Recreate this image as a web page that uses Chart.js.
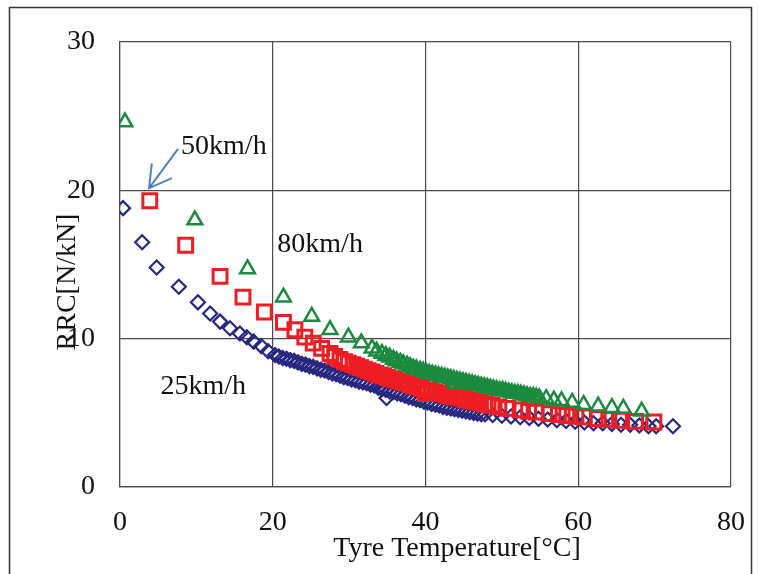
<!DOCTYPE html>
<html>
<head>
<meta charset="utf-8">
<script src="https://cdn.jsdelivr.net/npm/chart.js@4/dist/chart.umd.min.js"></script>
<style>
  html, body { margin: 0; padding: 0; background: #fff; }
  #wrap { width: 759px; height: 574px; position: relative; }
</style>
</head>
<body>
<div id="wrap"><canvas id="rrcChart"></canvas></div>
<script>
// tick labels
const xTicks = [0, 20, 40, 60, 80];
const yTicks = [0, 10, 20, 30];

// 25km/h series (diamonds)
const temp25 = [0.4, 2.9, 4.8, 7.7, 10.2, 11.8, 13.1, 14.4, 15.7, 16.6, 17.5, 18.5, 19.4,
  20.3, 20.8, 21.3, 21.8, 22.3, 22.8, 23.3, 23.8, 24.3, 24.8, 25.3, 25.8, 26.3, 26.8, 27.3,
  27.8, 28.3, 28.8, 29.3, 29.8, 30.3, 30.8, 31.3, 31.8, 32.3, 32.8, 33.3, 33.8, 34.3, 34.8,
  34.9, 35.3, 35.8, 36.3, 36.8, 37.3, 37.8, 38.3, 38.8, 39.3, 39.8, 40.3, 40.8, 41.3, 41.8,
  42.3, 42.8, 43.3, 43.8, 44.3, 44.8, 45.3, 45.8, 46.3, 46.8, 47.3, 47.8, 48.8, 50.0, 51.2,
  52.4, 53.6, 54.8, 56.0, 57.2, 58.4, 59.6, 60.8, 62.0, 63.2, 64.4, 65.6, 66.8, 68.0, 69.2,
  70.2, 72.4];
const rrc25 = [18.8, 16.5, 14.8, 13.5, 12.45, 11.7, 11.15, 10.7, 10.35, 10.1, 9.8, 9.5, 9.15,
  8.9, 8.8, 8.7, 8.65, 8.55, 8.5, 8.4, 8.3, 8.25, 8.15, 8.1, 8.0, 7.9, 7.85, 7.75,
  7.65, 7.6, 7.5, 7.4, 7.35, 7.25, 7.2, 7.1, 7.05, 7.0, 6.9, 6.85, 6.7, 6.6, 6.55,
  6.0, 6.45, 6.4, 6.3, 6.25, 6.15, 6.05, 6.0, 5.9, 5.85, 5.75, 5.7, 5.6, 5.55, 5.5,
  5.4, 5.35, 5.3, 5.25, 5.2, 5.15, 5.1, 5.05, 5.0, 4.95, 4.9, 4.9, 4.85, 4.8, 4.75,
  4.7, 4.65, 4.6, 4.55, 4.5, 4.45, 4.4, 4.35, 4.3, 4.3, 4.25, 4.2, 4.2, 4.15, 4.1,
  4.1, 4.1];

// 50km/h series (squares)
const temp50 = [3.9, 8.6, 13.1, 16.1, 18.9, 21.4, 22.9, 24.2, 25.3, 26.4, 27.5, 28.1, 28.8,
  29.4, 29.9, 30.5, 31.0, 31.5, 32.0, 32.5, 33.0, 33.5, 34.0, 34.5, 35.0, 35.5, 36.0, 36.5,
  37.0, 37.5, 38.0, 38.5, 39.0, 39.5, 40.0, 40.2, 40.7, 41.2, 41.7, 42.2, 42.7, 43.2, 43.7,
  44.2, 44.7, 45.2, 45.7, 46.2, 46.7, 47.2, 47.7, 48.2, 48.7, 49.6, 50.8, 52.4, 53.5, 54.5,
  56.2, 57.4, 58.5, 59.7, 60.7, 62.6, 64.0, 65.4, 67.5, 69.9];
const rrc50 = [19.3, 16.3, 14.2, 12.8, 11.8, 11.1, 10.6, 10.1, 9.7, 9.35, 9.0, 8.8, 8.6,
  8.45, 8.35, 8.25, 8.15, 8.05, 7.95, 7.85, 7.75, 7.65, 7.55, 7.5, 7.4, 7.3, 7.25, 7.15,
  7.05, 7.0, 6.9, 6.8, 6.75, 6.65, 6.3, 6.55, 6.5, 6.4, 6.35, 6.3, 6.2, 6.15, 6.1,
  6.05, 6.0, 5.9, 5.85, 5.8, 5.75, 5.7, 5.6, 5.55, 5.5, 5.4, 5.3, 5.2, 5.1, 5.05,
  4.95, 4.88, 4.82, 4.77, 4.72, 4.62, 4.56, 4.5, 4.42, 4.38];

// 80km/h series (triangles)
const temp80 = [0.65, 9.8, 16.7, 21.4, 25.1, 27.5, 29.9, 31.6, 33.0, 33.6, 34.3, 34.8, 35.3,
  35.8, 36.2, 36.7, 37.1, 37.6, 38.0, 38.4, 38.8, 39.3, 39.7, 40.1, 40.5, 40.9, 41.3, 41.7,
  42.1, 42.5, 42.9, 43.3, 43.7, 43.9, 44.1, 44.5, 44.9, 45.3, 45.7, 46.1, 46.5, 46.9, 47.3,
  47.7, 48.1, 48.5, 48.9, 49.3, 49.7, 50.1, 50.5, 50.9, 51.3, 51.7, 52.1, 52.5, 52.9, 53.3,
  53.7, 54.1, 54.5, 54.9, 55.8, 56.8, 57.8, 59.2, 60.7, 62.6, 64.4, 65.9, 68.3];
const rrc80 = [24.6, 18.0, 14.7, 12.8, 11.5, 10.6, 10.1, 9.7, 9.35, 9.15, 9.0, 8.85, 8.75,
  8.6, 8.5, 8.4, 8.3, 8.2, 8.1, 8.0, 7.95, 7.85, 7.8, 7.7, 7.65, 7.6, 7.55, 7.5,
  7.45, 7.4, 7.35, 7.3, 7.25, 6.95, 7.2, 7.15, 7.1, 7.05, 7.0, 6.95, 6.9, 6.85, 6.8,
  6.75, 6.7, 6.65, 6.6, 6.55, 6.5, 6.5, 6.45, 6.4, 6.35, 6.3, 6.3, 6.25, 6.2, 6.15,
  6.1, 6.1, 6.05, 6.0, 5.95, 5.85, 5.8, 5.7, 5.55, 5.45, 5.35, 5.3, 5.1];

const speedLabels = ['25km/h', '50km/h', '80km/h'];

function toPoints(xs, ys) {
  return xs.map((v, i) => ({ x: v, y: ys[i] }));
}

const serif = "'Liberation Serif', 'Times New Roman', serif";

const overlay = {
  id: 'overlay',
  afterDraw(chart) {
    const { ctx, scales: { x, y } } = chart;
    ctx.save();

    // outer frame of the figure
    ctx.strokeStyle = '#333';
    ctx.lineWidth = 1.5;
    ctx.strokeRect(9.5, 7.5, 742, 600);

    ctx.fillStyle = '#111';
    ctx.font = '28px ' + serif;
    ctx.textAlign = 'center';
    ctx.textBaseline = 'alphabetic';

    // speed notes
    ctx.fillText(speedLabels[1], x.getPixelForValue(13.6), y.getPixelForValue(23.1) + 9.5);
    ctx.fillText(speedLabels[2], x.getPixelForValue(26.2), y.getPixelForValue(16.45) + 9.5);
    ctx.fillText(speedLabels[0], x.getPixelForValue(10.9), y.getPixelForValue(6.9) + 9.5);

    // axis titles
    ctx.fillText('Tyre Temperature[\u00B0C]', 457, 556);
    ctx.save();
    ctx.translate(74.5, 282);
    ctx.rotate(-Math.PI / 2);
    ctx.fillText('RRC[N/kN]', 0, 0);
    ctx.restore();

    // arrow pointing at the 50km/h start
    const x0 = x.getPixelForValue(7.6), y0 = y.getPixelForValue(22.8);
    const x1 = x.getPixelForValue(3.8), y1 = y.getPixelForValue(20.15);
    const ang = Math.atan2(y0 - y1, x0 - x1);
    const wing = 25;
    ctx.strokeStyle = '#4f81bd';
    ctx.lineWidth = 2;
    ctx.beginPath();
    ctx.moveTo(x0, y0);
    ctx.lineTo(x1, y1);
    ctx.moveTo(x1 + wing * Math.cos(ang + Math.PI / 6), y1 + wing * Math.sin(ang + Math.PI / 6));
    ctx.lineTo(x1, y1);
    ctx.lineTo(x1 + wing * Math.cos(ang - Math.PI / 6), y1 + wing * Math.sin(ang - Math.PI / 6));
    ctx.stroke();

    ctx.restore();
  }
};

new Chart(document.getElementById('rrcChart'), {
  type: 'scatter',
  data: {
    datasets: [
      {
        label: speedLabels[2],
        data: toPoints(temp80, rrc80),
        pointStyle: 'triangle',
        pointRadius: 8.5,
        borderWidth: 2.5,
        borderColor: '#1b8a3f',
        backgroundColor: 'rgba(0,0,0,0)',
        order: 0
      },
      {
        label: speedLabels[1],
        data: toPoints(temp50, rrc50),
        pointStyle: 'rect',
        pointRadius: 9.8,
        borderWidth: 3,
        borderColor: '#ee1d23',
        backgroundColor: 'rgba(0,0,0,0)',
        order: 1
      },
      {
        label: speedLabels[0],
        data: toPoints(temp25, rrc25),
        pointStyle: 'rectRot',
        pointRadius: 7,
        borderWidth: 2.2,
        borderColor: '#262680',
        backgroundColor: 'rgba(0,0,0,0)',
        order: 2
      }
    ]
  },
  options: {
    responsive: true,
    maintainAspectRatio: false,
    animation: false,
    layout: {
      padding: { left: 0, right: 28, top: 42, bottom: 0 }
    },
    plugins: {
      legend: { display: false },
      tooltip: { enabled: false }
    },
    scales: {
      x: {
        type: 'linear',
        min: 0,
        max: 80,
        afterFit: (scale) => {
          scale.height = 87;
          scale.paddingLeft = 0;
          scale.paddingRight = 0;
        },
        afterBuildTicks: (scale) => { scale.ticks = xTicks.map(v => ({ value: v })); },
        grid: { color: '#4a4a4a', lineWidth: 1.2, drawTicks: false },
        border: { color: '#4a4a4a', width: 1.2 },
        ticks: {
          padding: 19,
          color: '#111',
          font: { family: serif, size: 28 }
        }
      },
      y: {
        type: 'linear',
        min: 0,
        max: 30,
        afterFit: (scale) => {
          scale.width = 120;
          scale.paddingTop = 0;
          scale.paddingBottom = 0;
        },
        afterBuildTicks: (scale) => { scale.ticks = yTicks.map(v => ({ value: v })); },
        grid: { color: '#4a4a4a', lineWidth: 1.2, drawTicks: false },
        border: { color: '#4a4a4a', width: 1.2 },
        ticks: {
          padding: 25,
          color: '#111',
          font: { family: serif, size: 28 }
        }
      }
    }
  },
  plugins: [overlay]
});
</script>
</body>
</html>
